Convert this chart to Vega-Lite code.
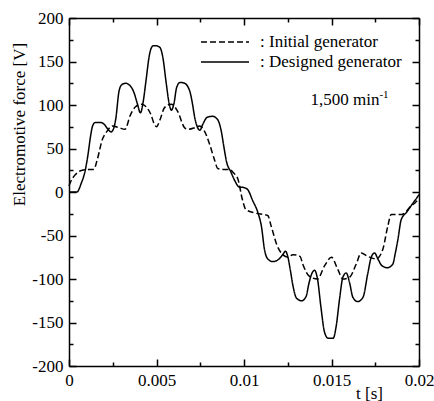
{
  "$schema": "https://vega.github.io/schema/vega-lite/v6.json",
  "width": 350,
  "height": 348,
  "autosize": {"type": "none"},
  "padding": {"left": 69, "top": 18, "right": 15, "bottom": 35},
  "background": "white",
  "config": {
    "view": {"stroke": null},
    "font": "Liberation Serif",
    "axis": {"labelFont": "Liberation Serif", "titleFont": "Liberation Serif", "labelFontSize": 17, "titleFontSize": 17, "labelColor": "black", "titleColor": "black", "titleFontWeight": "normal", "domainColor": "black", "tickColor": "black", "domainWidth": 1.5, "tickWidth": 1.5, "grid": false, "ticks": true},
    "text": {"font": "Liberation Serif", "color": "black"}
  },
  "datasets": {
    "emf": [
      {"series": ": Designed generator", "t": 0, "v": 0},
      {"series": ": Designed generator", "t": 0.0002, "v": 0},
      {"series": ": Designed generator", "t": 0.00045, "v": 0},
      {"series": ": Designed generator", "t": 0.0007, "v": 10},
      {"series": ": Designed generator", "t": 0.00094, "v": 26},
      {"series": ": Designed generator", "t": 0.0011, "v": 45},
      {"series": ": Designed generator", "t": 0.00123, "v": 64},
      {"series": ": Designed generator", "t": 0.00135, "v": 76},
      {"series": ": Designed generator", "t": 0.0015, "v": 80},
      {"series": ": Designed generator", "t": 0.0018, "v": 80},
      {"series": ": Designed generator", "t": 0.002, "v": 78},
      {"series": ": Designed generator", "t": 0.00227, "v": 71},
      {"series": ": Designed generator", "t": 0.0024, "v": 69},
      {"series": ": Designed generator", "t": 0.00255, "v": 73},
      {"series": ": Designed generator", "t": 0.00268, "v": 85},
      {"series": ": Designed generator", "t": 0.00285, "v": 115},
      {"series": ": Designed generator", "t": 0.003, "v": 123},
      {"series": ": Designed generator", "t": 0.00323, "v": 125},
      {"series": ": Designed generator", "t": 0.00345, "v": 123},
      {"series": ": Designed generator", "t": 0.0037, "v": 115},
      {"series": ": Designed generator", "t": 0.0039, "v": 102},
      {"series": ": Designed generator", "t": 0.00408, "v": 91},
      {"series": ": Designed generator", "t": 0.00425, "v": 105},
      {"series": ": Designed generator", "t": 0.0044, "v": 128},
      {"series": ": Designed generator", "t": 0.0046, "v": 158},
      {"series": ": Designed generator", "t": 0.0048, "v": 168},
      {"series": ": Designed generator", "t": 0.005, "v": 168},
      {"series": ": Designed generator", "t": 0.0052, "v": 166},
      {"series": ": Designed generator", "t": 0.00536, "v": 155},
      {"series": ": Designed generator", "t": 0.00555, "v": 126},
      {"series": ": Designed generator", "t": 0.00572, "v": 102},
      {"series": ": Designed generator", "t": 0.00585, "v": 94},
      {"series": ": Designed generator", "t": 0.006, "v": 102},
      {"series": ": Designed generator", "t": 0.00615, "v": 120},
      {"series": ": Designed generator", "t": 0.00635, "v": 126},
      {"series": ": Designed generator", "t": 0.0066, "v": 125},
      {"series": ": Designed generator", "t": 0.0069, "v": 116},
      {"series": ": Designed generator", "t": 0.00705, "v": 102},
      {"series": ": Designed generator", "t": 0.00718, "v": 86},
      {"series": ": Designed generator", "t": 0.00735, "v": 74},
      {"series": ": Designed generator", "t": 0.00748, "v": 71},
      {"series": ": Designed generator", "t": 0.00765, "v": 78},
      {"series": ": Designed generator", "t": 0.0079, "v": 86},
      {"series": ": Designed generator", "t": 0.0082, "v": 87},
      {"series": ": Designed generator", "t": 0.0085, "v": 83},
      {"series": ": Designed generator", "t": 0.0087, "v": 70},
      {"series": ": Designed generator", "t": 0.00885, "v": 52},
      {"series": ": Designed generator", "t": 0.009, "v": 35},
      {"series": ": Designed generator", "t": 0.00925, "v": 23},
      {"series": ": Designed generator", "t": 0.0095, "v": 12},
      {"series": ": Designed generator", "t": 0.0097, "v": 6},
      {"series": ": Designed generator", "t": 0.01, "v": 5},
      {"series": ": Designed generator", "t": 0.0102, "v": 3},
      {"series": ": Designed generator", "t": 0.0105, "v": -10},
      {"series": ": Designed generator", "t": 0.0108, "v": -24},
      {"series": ": Designed generator", "t": 0.011, "v": -40},
      {"series": ": Designed generator", "t": 0.01117, "v": -66},
      {"series": ": Designed generator", "t": 0.01136, "v": -77},
      {"series": ": Designed generator", "t": 0.01165, "v": -80},
      {"series": ": Designed generator", "t": 0.012, "v": -77},
      {"series": ": Designed generator", "t": 0.01225, "v": -71},
      {"series": ": Designed generator", "t": 0.01237, "v": -68},
      {"series": ": Designed generator", "t": 0.0125, "v": -74},
      {"series": ": Designed generator", "t": 0.01265, "v": -90},
      {"series": ": Designed generator", "t": 0.0128, "v": -108},
      {"series": ": Designed generator", "t": 0.013, "v": -122},
      {"series": ": Designed generator", "t": 0.0133, "v": -125},
      {"series": ": Designed generator", "t": 0.01355, "v": -120},
      {"series": ": Designed generator", "t": 0.0137, "v": -106},
      {"series": ": Designed generator", "t": 0.01385, "v": -95},
      {"series": ": Designed generator", "t": 0.01403, "v": -90},
      {"series": ": Designed generator", "t": 0.0142, "v": -100},
      {"series": ": Designed generator", "t": 0.0144, "v": -133},
      {"series": ": Designed generator", "t": 0.0146, "v": -161},
      {"series": ": Designed generator", "t": 0.0148, "v": -168},
      {"series": ": Designed generator", "t": 0.0151, "v": -168},
      {"series": ": Designed generator", "t": 0.01527, "v": -154},
      {"series": ": Designed generator", "t": 0.01546, "v": -123},
      {"series": ": Designed generator", "t": 0.01565, "v": -98},
      {"series": ": Designed generator", "t": 0.01584, "v": -93},
      {"series": ": Designed generator", "t": 0.01603, "v": -104},
      {"series": ": Designed generator", "t": 0.01622, "v": -121},
      {"series": ": Designed generator", "t": 0.0165, "v": -126},
      {"series": ": Designed generator", "t": 0.0168, "v": -121},
      {"series": ": Designed generator", "t": 0.01707, "v": -94},
      {"series": ": Designed generator", "t": 0.01727, "v": -75},
      {"series": ": Designed generator", "t": 0.01746, "v": -70},
      {"series": ": Designed generator", "t": 0.01765, "v": -77},
      {"series": ": Designed generator", "t": 0.0179, "v": -85},
      {"series": ": Designed generator", "t": 0.0182, "v": -87},
      {"series": ": Designed generator", "t": 0.0185, "v": -83},
      {"series": ": Designed generator", "t": 0.01865, "v": -70},
      {"series": ": Designed generator", "t": 0.0188, "v": -54},
      {"series": ": Designed generator", "t": 0.01898, "v": -32},
      {"series": ": Designed generator", "t": 0.0193, "v": -23},
      {"series": ": Designed generator", "t": 0.01965, "v": -13},
      {"series": ": Designed generator", "t": 0.0199, "v": -6},
      {"series": ": Designed generator", "t": 0.02, "v": -3},
      {"series": ": Initial generator", "t": 0, "v": 7},
      {"series": ": Initial generator", "t": 0.0001, "v": 12},
      {"series": ": Initial generator", "t": 0.00037, "v": 20},
      {"series": ": Initial generator", "t": 0.00075, "v": 25},
      {"series": ": Initial generator", "t": 0.0011, "v": 26},
      {"series": ": Initial generator", "t": 0.00142, "v": 26},
      {"series": ": Initial generator", "t": 0.0016, "v": 36},
      {"series": ": Initial generator", "t": 0.0019, "v": 60},
      {"series": ": Initial generator", "t": 0.00218, "v": 70},
      {"series": ": Initial generator", "t": 0.00247, "v": 76},
      {"series": ": Initial generator", "t": 0.00285, "v": 74},
      {"series": ": Initial generator", "t": 0.0032, "v": 72},
      {"series": ": Initial generator", "t": 0.0035, "v": 88},
      {"series": ": Initial generator", "t": 0.0038, "v": 98},
      {"series": ": Initial generator", "t": 0.00415, "v": 101},
      {"series": ": Initial generator", "t": 0.00445, "v": 97},
      {"series": ": Initial generator", "t": 0.00466, "v": 90},
      {"series": ": Initial generator", "t": 0.0049, "v": 77},
      {"series": ": Initial generator", "t": 0.005, "v": 75},
      {"series": ": Initial generator", "t": 0.0052, "v": 83},
      {"series": ": Initial generator", "t": 0.00546, "v": 97},
      {"series": ": Initial generator", "t": 0.00584, "v": 101},
      {"series": ": Initial generator", "t": 0.0062, "v": 93},
      {"series": ": Initial generator", "t": 0.0066, "v": 74},
      {"series": ": Initial generator", "t": 0.0068, "v": 72},
      {"series": ": Initial generator", "t": 0.0072, "v": 74},
      {"series": ": Initial generator", "t": 0.00746, "v": 76},
      {"series": ": Initial generator", "t": 0.00774, "v": 70},
      {"series": ": Initial generator", "t": 0.008, "v": 57},
      {"series": ": Initial generator", "t": 0.0083, "v": 38},
      {"series": ": Initial generator", "t": 0.0085, "v": 27},
      {"series": ": Initial generator", "t": 0.0088, "v": 26},
      {"series": ": Initial generator", "t": 0.00917, "v": 26},
      {"series": ": Initial generator", "t": 0.0094, "v": 22},
      {"series": ": Initial generator", "t": 0.00965, "v": 15},
      {"series": ": Initial generator", "t": 0.0099, "v": -8},
      {"series": ": Initial generator", "t": 0.0101, "v": -20},
      {"series": ": Initial generator", "t": 0.0106, "v": -24},
      {"series": ": Initial generator", "t": 0.01136, "v": -27},
      {"series": ": Initial generator", "t": 0.01155, "v": -39},
      {"series": ": Initial generator", "t": 0.0119, "v": -62},
      {"series": ": Initial generator", "t": 0.01222, "v": -72},
      {"series": ": Initial generator", "t": 0.0125, "v": -75},
      {"series": ": Initial generator", "t": 0.0128, "v": -72},
      {"series": ": Initial generator", "t": 0.0132, "v": -74},
      {"series": ": Initial generator", "t": 0.01336, "v": -83},
      {"series": ": Initial generator", "t": 0.01374, "v": -97},
      {"series": ": Initial generator", "t": 0.0142, "v": -100},
      {"series": ": Initial generator", "t": 0.0146, "v": -85},
      {"series": ": Initial generator", "t": 0.015, "v": -75},
      {"series": ": Initial generator", "t": 0.01536, "v": -89},
      {"series": ": Initial generator", "t": 0.01565, "v": -100},
      {"series": ": Initial generator", "t": 0.01603, "v": -98},
      {"series": ": Initial generator", "t": 0.01641, "v": -83},
      {"series": ": Initial generator", "t": 0.0167, "v": -70},
      {"series": ": Initial generator", "t": 0.01707, "v": -74},
      {"series": ": Initial generator", "t": 0.01755, "v": -77},
      {"series": ": Initial generator", "t": 0.01793, "v": -66},
      {"series": ": Initial generator", "t": 0.01822, "v": -39},
      {"series": ": Initial generator", "t": 0.01841, "v": -26},
      {"series": ": Initial generator", "t": 0.019, "v": -26},
      {"series": ": Initial generator", "t": 0.01955, "v": -16},
      {"series": ": Initial generator", "t": 0.0198, "v": -12},
      {"series": ": Initial generator", "t": 0.02, "v": -8}
    ],
    "note": [{"label": "1,500 min", "exp": "-1"}]
  },
  "resolve": {"axis": {"x": "independent", "y": "independent"}},
  "layer": [
    {
      "data": {"name": "emf"},
      "mark": {"type": "line", "interpolate": "monotone", "color": "black", "strokeWidth": 1.5},
      "encoding": {
        "x": {
          "field": "t", "type": "quantitative",
          "scale": {"domain": [0, 0.02], "nice": false, "zero": false},
          "axis": {
            "orient": "bottom",
            "values": [0, 0.005, 0.01, 0.015, 0.02],
            "labelExpr": "'' + datum.value",
            "tickSize": -7,
            "labelPadding": 13,
            "labelFlush": false,
            "title": "t [s]",
            "titleX": 300, "titleY": 32, "titleAlign": "center", "titleBaseline": "alphabetic", "titleAnchor": null
          }
        },
        "y": {
          "field": "v", "type": "quantitative",
          "scale": {"domain": [-200, 200], "nice": false},
          "axis": {
            "orient": "left",
            "values": [-200, -150, -100, -50, 0, 50, 100, 150, 200],
            "labelExpr": "'' + datum.value",
            "tickSize": -7,
            "labelPadding": 13,
            "labelFlush": false,
            "title": "Electromotive force [V]",
            "titleX": -45, "titleY": 106, "titleAngle": -90, "titleAlign": "center", "titleBaseline": "alphabetic", "titleAnchor": null
          }
        },
        "strokeDash": {
          "field": "series", "type": "nominal",
          "scale": {"domain": [": Initial generator", ": Designed generator"], "range": [[6, 3], [1, 0]]},
          "legend": {
            "orient": "none", "legendX": 131, "legendY": 14,
            "title": null, "padding": 0,
            "symbolType": "stroke", "symbolSize": 2304, "symbolStrokeWidth": 1.5, "symbolStrokeColor": "black",
            "labelFont": "Liberation Serif", "labelFontSize": 17, "labelColor": "black", "labelOffset": 10,
            "clipHeight": 20, "rowPadding": 0
          }
        }
      }
    },
    {
      "data": {"name": "emf"},
      "mark": {"type": "line", "strokeOpacity": 0},
      "encoding": {
        "x": {"field": "t", "type": "quantitative", "axis": {"orient": "top", "values": [0, 0.005, 0.01, 0.015, 0.02], "labels": false, "title": null, "tickSize": -7}},
        "y": {"field": "v", "type": "quantitative", "axis": {"orient": "right", "values": [-200, -150, -100, -50, 0, 50, 100, 150, 200], "labels": false, "title": null, "tickSize": -7}},
        "detail": {"field": "series"}
      }
    },
    {
      "data": {"name": "emf"},
      "mark": {"type": "line", "strokeOpacity": 0},
      "encoding": {
        "x": {"field": "t", "type": "quantitative", "axis": {"orient": "bottom", "values": [0.0025, 0.0075, 0.0125, 0.0175], "labels": false, "title": null, "domain": false, "tickSize": -4}},
        "y": {"field": "v", "type": "quantitative", "axis": {"orient": "left", "values": [-175, -125, -75, -25, 25, 75, 125, 175], "labels": false, "title": null, "domain": false, "tickSize": -4}},
        "detail": {"field": "series"}
      }
    },
    {
      "data": {"name": "emf"},
      "mark": {"type": "line", "strokeOpacity": 0},
      "encoding": {
        "x": {"field": "t", "type": "quantitative", "axis": {"orient": "top", "values": [0.0025, 0.0075, 0.0125, 0.0175], "labels": false, "title": null, "domain": false, "tickSize": -4}},
        "y": {"field": "v", "type": "quantitative", "axis": {"orient": "right", "values": [-175, -125, -75, -25, 25, 75, 125, 175], "labels": false, "title": null, "domain": false, "tickSize": -4}},
        "detail": {"field": "series"}
      }
    },
    {
      "data": {"name": "note"},
      "mark": {"type": "text", "align": "right", "baseline": "alphabetic", "fontSize": 17, "color": "black"},
      "encoding": {
        "text": {"field": "label"},
        "x": {"datum": 0.01774, "type": "quantitative", "axis": null},
        "y": {"datum": 100, "type": "quantitative", "axis": null}
      }
    },
    {
      "data": {"name": "note"},
      "mark": {"type": "text", "align": "left", "baseline": "alphabetic", "fontSize": 11, "dy": -7, "color": "black"},
      "encoding": {
        "text": {"field": "exp"},
        "x": {"datum": 0.01774, "type": "quantitative", "axis": null},
        "y": {"datum": 100, "type": "quantitative", "axis": null}
      }
    }
  ]
}
